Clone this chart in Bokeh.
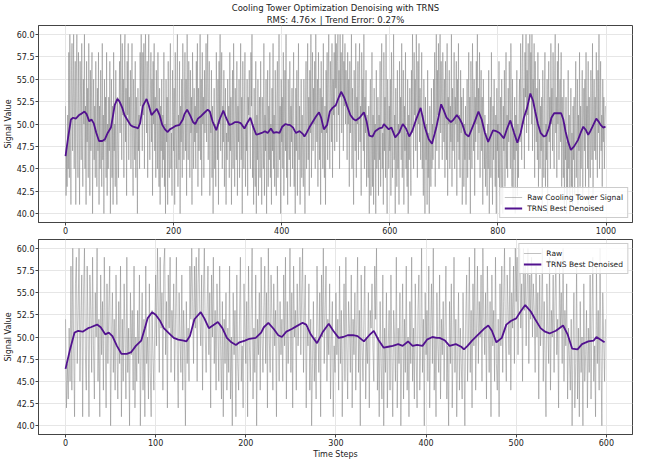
from bokeh.plotting import figure
from bokeh.models import Title, FixedTicker, PrintfTickFormatter, Legend, LegendItem, Range1d
from bokeh.layouts import column
from bokeh.embed import file_html
from bokeh.resources import INLINE

title_main = "Cooling Tower Optimization Denoising with TRNS"
title_sub = "RMS: 4.76\u00d7 | Trend Error: 0.27%"

raw_signal = [
    52, 42, 47, 43, 51, 45, 58, 44, 60, 49, 41, 56, 59, 47, 53, 60, 45, 52, 57, 41,
    55, 60, 48, 44, 58, 51, 41, 57, 53, 46, 59, 49, 43, 55, 50, 60, 45, 52, 41, 57,
    48, 54, 44, 59, 51, 42, 56, 47, 53, 58, 40, 50, 55, 46, 52, 44, 57, 49, 43, 54,
    47, 58, 41, 52, 45, 56, 50, 43, 59, 46, 51, 40, 55, 48, 53, 44, 58, 42, 50, 45,
    53, 47, 57, 40, 49, 55, 44, 52, 41, 58, 47, 50, 43, 56, 46, 41, 53, 48, 44, 51,
    57, 49, 60, 53, 46, 59, 51, 55, 44, 58, 60, 48, 54, 42, 57, 51, 59, 46, 53, 50,
    56, 45, 52, 59, 48, 42, 55, 50, 46, 57, 44, 53, 49, 40, 54, 47, 51, 45, 58, 52,
    60, 54, 47, 58, 51, 59, 45, 56, 60, 52, 49, 57, 44, 55, 60, 50, 46, 53, 58, 48,
    55, 42, 57, 50, 59, 47, 53, 44, 56, 51, 45, 58, 49, 43, 54, 41, 52, 47, 55, 44,
    51, 46, 58, 43, 50, 40, 55, 48, 53, 41, 57, 47, 44, 52, 59, 45, 49, 42, 56, 50,
    47, 54, 41, 58, 49, 45, 53, 60, 43, 51, 46, 57, 40, 52, 48, 55, 44, 59, 50, 46,
    53, 58, 47, 55, 42, 60, 50, 46, 57, 52, 44, 56, 49, 53, 41, 58, 51, 45, 54, 48,
    52, 45, 57, 49, 59, 43, 54, 47, 51, 60, 46, 55, 42, 58, 50, 53, 44, 56, 49, 52,
    59, 48, 55, 60, 46, 53, 57, 42, 51, 49, 56, 44, 52, 40, 47, 54, 45, 50, 43, 58,
    51, 46, 55, 41, 57, 50, 60, 47, 53, 58, 45, 52, 48, 56, 43, 50, 54, 41, 49, 46,
    55, 48, 52, 44, 58, 47, 53, 41, 50, 56, 45, 59, 49, 43, 54, 51, 46, 57, 42, 52,
    48, 55, 44, 51, 59, 46, 53, 40, 57, 49, 45, 52, 58, 43, 50, 47, 55, 42, 53, 51,
    56, 49, 45, 58, 52, 60, 44, 50, 41, 54, 47, 43, 57, 40, 51, 46, 55, 42, 49, 53,
    44, 57, 48, 41, 53, 50, 45, 59, 42, 51, 47, 55, 40, 49, 56, 43, 52, 46, 58, 44,
    50, 41, 54, 47, 59, 45, 51, 43, 56, 48, 42, 53, 57, 44, 49, 60, 46, 52, 40, 55,
    48, 53, 45, 58, 42, 51, 56, 47, 60, 44, 50, 41, 55, 49, 46, 57, 43, 52, 48, 54,
    45, 51, 58, 43, 49, 40, 54, 47, 56, 42, 50, 59, 46, 52, 41, 48, 55, 44, 51, 47,
    43, 55, 48, 40, 52, 57, 45, 50, 59, 46, 53, 42, 56, 49, 60, 44, 51, 58, 47, 54,
    50, 57, 45, 60, 52, 48, 55, 43, 58, 51, 46, 54, 41, 57, 49, 53, 45, 59, 47, 44,
    52, 41, 56, 49, 58, 46, 54, 60, 50, 45, 57, 53, 48, 59, 44, 55, 51, 58, 47, 60,
    54, 59, 48, 57, 60, 51, 56, 45, 60, 53, 58, 49, 55, 60, 47, 57, 52, 59, 50, 56,
    53, 46, 58, 50, 55, 43, 57, 49, 52, 60, 45, 54, 48, 41, 56, 51, 47, 59, 44, 53,
    50, 57, 46, 54, 59, 48, 52, 42, 58, 51, 55, 47, 60, 45, 53, 49, 56, 43, 51, 48,
    44, 52, 40, 49, 55, 42, 47, 58, 43, 51, 41, 54, 46, 50, 40, 56, 45, 48, 53, 42,
    51, 46, 57, 43, 52, 59, 45, 49, 41, 58, 47, 53, 44, 60, 48, 40, 55, 50, 45, 52,
    47, 55, 42, 58, 49, 44, 53, 60, 46, 51, 40, 54, 48, 43, 56, 45, 50, 41, 57, 49,
    53, 46, 59, 44, 50, 56, 41, 52, 47, 58, 45, 49, 43, 55, 40, 51, 46, 54, 48, 42,
    56, 49, 60, 52, 45, 58, 51, 55, 47, 60, 53, 44, 57, 50, 59, 48, 54, 46, 52, 58,
    45, 51, 42, 55, 48, 40, 53, 46, 50, 41, 56, 44, 49, 40, 52, 47, 43, 54, 45, 50,
    46, 55, 49, 58, 43, 52, 60, 47, 56, 51, 59, 45, 54, 60, 49, 57, 52, 46, 58, 53,
    48, 55, 44, 57, 51, 46, 59, 42, 53, 50, 56, 45, 52, 48, 60, 43, 54, 47, 51, 58,
    45, 53, 50, 57, 42, 55, 48, 59, 46, 51, 44, 56, 49, 53, 41, 47, 54, 43, 50, 46,
    52, 41, 48, 55, 44, 50, 58, 46, 53, 40, 57, 49, 45, 59, 51, 47, 55, 42, 53, 48,
    57, 50, 60, 46, 54, 49, 58, 44, 52, 56, 47, 53, 41, 55, 50, 45, 51, 43, 49, 46,
    42, 50, 45, 56, 40, 48, 53, 44, 58, 47, 41, 52, 46, 55, 49, 43, 51, 40, 54, 47,
    50, 44, 57, 42, 48, 53, 41, 55, 46, 40, 52, 47, 56, 43, 49, 58, 45, 51, 44, 54,
    48, 57, 52, 45, 59, 50, 43, 55, 41, 49, 46, 53, 40, 51, 47, 56, 42, 50, 44, 52,
    55, 48, 59, 52, 46, 57, 60, 50, 54, 45, 58, 53, 60, 49, 56, 51, 59, 47, 55, 60,
    53, 58, 50, 60, 47, 55, 52, 59, 44, 57, 51, 48, 54, 46, 58, 43, 50, 55, 45, 52,
    47, 53, 41, 56, 49, 44, 52, 58, 43, 50, 46, 55, 40, 51, 57, 48, 53, 45, 59, 50,
    54, 47, 58, 51, 45, 56, 60, 49, 53, 44, 57, 50, 59, 46, 52, 55, 48, 58, 43, 53,
    49, 44, 55, 41, 50, 46, 53, 40, 48, 42, 56, 45, 51, 40, 47, 54, 43, 49, 41, 52,
    46, 53, 42, 50, 57, 44, 48, 55, 41, 51, 47, 58, 43, 52, 45, 49, 56, 42, 50, 54,
    47, 55, 43, 58, 49, 52, 45, 57, 41, 53, 48, 44, 56, 50, 46, 59, 42, 51, 55, 47,
    53, 46, 58, 50, 44, 56, 49, 60, 45, 52, 57, 47, 51, 43, 55, 48, 53, 45, 50, 52,
]
time_steps = list(range(len(raw_signal)))

denoised_t = [
    0, 5, 10, 14, 19, 25, 28, 35, 39, 44, 48, 52, 57, 62, 68, 73, 78, 84, 88, 91,
    96, 100, 105, 109, 114, 120, 125, 131, 134, 138, 143, 150, 154, 159, 165, 169, 174, 179, 184, 189,
    193, 199, 204, 211, 217, 220, 225, 231, 236, 240, 245, 251, 256, 263, 267, 272, 279, 285, 292, 297,
    303, 308, 313, 319, 324, 331, 337, 342, 347, 353, 358, 363, 369, 374, 380, 385, 390, 396, 401, 407,
    412, 415, 421, 426, 433, 439, 442, 446, 451, 458, 464, 469, 473, 478, 484, 489, 494, 500, 505, 510,
    516, 521, 527, 532, 537, 544, 552, 557, 562, 568, 573, 580, 586, 589, 595, 598,
    603, 610, 617, 624, 630, 636, 642, 648, 657, 665, 672, 678, 686, 695, 700, 705, 713, 718, 724, 730,
    734, 740, 746, 752, 758, 764, 770, 776, 782, 791, 797, 803, 811, 817, 823, 830, 836, 842, 848, 854,
    860, 865, 869, 874, 879, 885, 889, 894, 899, 904, 910, 917, 921, 925, 930, 935, 941, 948, 953, 958,
    963, 967, 971, 975, 982, 986, 990, 995, 999,
]
denoised_v = [
    46.4, 48.6, 50.5, 50.7, 50.6, 51.0, 51.1, 51.4, 51.1, 50.3, 50.5, 50.1, 49.0, 48.1, 48.1, 48.3, 49.0, 49.6, 51.0, 52.1,
    52.8, 52.5, 51.8, 51.0, 50.5, 49.9, 49.7, 49.6, 49.5, 50.1, 52.0, 52.8, 52.1, 51.0, 51.4, 51.7, 51.0, 49.9, 49.4, 49.1,
    49.4, 49.6, 49.8, 49.9, 50.5, 51.1, 51.6, 50.9, 50.2, 50.0, 50.6, 50.9, 51.2, 51.6, 51.4, 50.3, 49.3, 50.5, 51.5, 50.7,
    49.9, 50.0, 50.2, 50.2, 50.1, 49.5, 50.2, 50.7, 49.7, 48.8, 48.9, 49.0, 49.2, 49.0, 49.5, 49.0, 49.1, 49.0, 49.7, 50.0,
    49.9, 49.9, 49.6, 49.0, 49.2, 48.9, 48.6, 49.0, 49.6, 50.3, 50.9, 51.3, 50.7, 49.4, 49.9, 51.4, 51.8, 52.1, 52.9, 53.6,
    52.9, 52.0, 51.0, 50.6, 50.4, 50.7, 51.3, 50.3, 48.7, 48.6, 49.2, 49.5, 49.6, 50.0, 49.6, 49.4,
    49.6, 48.5, 49.0, 50.0, 49.5, 48.6, 49.3, 50.4, 51.8, 49.6, 48.3, 47.8, 49.6, 52.2, 51.5, 50.7, 50.2, 50.5, 51.0, 50.5,
    50.0, 48.9, 48.6, 49.5, 50.4, 51.4, 50.5, 49.0, 48.0, 49.3, 49.2, 49.0, 48.4, 49.5, 50.4, 49.0, 47.9, 49.0, 50.7, 51.8,
    53.4, 52.6, 51.4, 50.0, 49.0, 48.6, 48.7, 49.5, 50.7, 51.2, 51.2, 51.2, 50.5, 49.2, 48.0, 47.1, 47.5, 48.2, 49.0, 49.7,
    49.3, 48.8, 49.2, 49.7, 50.6, 50.3, 49.9, 49.6, 49.7,
]

y_ticks = [40.0, 42.5, 45.0, 47.5, 50.0, 52.5, 55.0, 57.5, 60.0]
x_ticks_top = [0, 200, 400, 600, 800, 1000]
x_ticks_bottom = [0, 100, 200, 300, 400, 500, 600]
zoom_len = 600

FONT = "DejaVu Sans"
RAW_COLOR = "#808080"
DEN_COLOR = "#52128f"


def style(p, xticks, xlabel=None):
    for ax in (p.xaxis[0], p.yaxis[0]):
        ax.major_label_text_font = FONT
        ax.major_label_text_font_size = "8px"
        ax.major_label_text_color = "#222222"
        ax.axis_label_text_font = FONT
        ax.axis_label_text_font_size = "8px"
        ax.axis_label_text_font_style = "normal"
        ax.axis_label_text_color = "#222222"
        ax.major_tick_out = 3
        ax.major_tick_in = 0
        ax.minor_tick_out = 0
        ax.minor_tick_in = 0
        ax.major_tick_line_color = "#444444"
        ax.axis_line_color = "#444444"
        ax.major_label_standoff = 1
        ax.axis_label_standoff = 1
    p.xaxis[0].ticker = FixedTicker(ticks=xticks)
    p.yaxis[0].ticker = FixedTicker(ticks=y_ticks)
    p.yaxis[0].formatter = PrintfTickFormatter(format="%.1f")
    p.yaxis[0].axis_label = "Signal Value"
    if xlabel:
        p.xaxis[0].axis_label = xlabel
    p.xgrid.grid_line_color = "#e6e6e6"
    p.ygrid.grid_line_color = "#e6e6e6"
    p.xgrid.ticker = FixedTicker(ticks=xticks)
    p.ygrid.ticker = FixedTicker(ticks=y_ticks)
    p.outline_line_color = "#444444"
    p.outline_line_width = 1
    p.min_border_left = 0
    p.min_border_right = 2


def legend(p, items, loc):
    lg = Legend(items=items, location=loc)
    lg.label_text_font = FONT
    lg.label_text_font_size = "7.5px"
    lg.label_text_color = "#222222"
    lg.glyph_width = 18
    lg.glyph_height = 10
    lg.label_height = 10
    lg.spacing = 1
    lg.padding = 4
    lg.margin = 4
    lg.border_line_color = "#cccccc"
    lg.border_line_alpha = 1
    lg.background_fill_alpha = 0.85
    p.add_layout(lg)


top = figure(width=634, height=236, x_range=Range1d(-50, 1049), y_range=Range1d(39, 61),
             output_backend="svg", toolbar_location=None, tools="")
top.min_border_top = 0
top.min_border_bottom = 0
style(top, x_ticks_top)
r1 = top.line(time_steps, raw_signal, line_color=RAW_COLOR, line_alpha=0.7, line_width=0.7)
r2 = top.line(denoised_t, denoised_v, line_color=DEN_COLOR, line_width=1.8)
legend(top, [LegendItem(label="Raw Cooling Tower Signal", renderers=[r1]),
             LegendItem(label="TRNS Best Denoised", renderers=[r2])], "bottom_right")
top.add_layout(Title(text=title_sub, align="center", text_font=FONT, text_font_size="8.5px",
                     text_font_style="normal", text_color="#222222", standoff=1), "above")
top.add_layout(Title(text=title_main, align="center", text_font=FONT, text_font_size="8.5px",
                     text_font_style="normal", text_color="#222222", standoff=0), "above")

bz_t = [t for t in denoised_t if t < zoom_len]
bz_v = denoised_v[:len(bz_t)]
bot = figure(width=634, height=225, x_range=Range1d(-30, 629), y_range=Range1d(39, 61),
             output_backend="svg", toolbar_location=None, tools="")
bot.min_border_top = 3
bot.min_border_bottom = 0
style(bot, x_ticks_bottom, "Time Steps")
r3 = bot.line(time_steps[:zoom_len], raw_signal[:zoom_len], line_color=RAW_COLOR, line_alpha=0.7, line_width=0.7)
r4 = bot.line(bz_t, bz_v, line_color=DEN_COLOR, line_width=1.8)
legend(bot, [LegendItem(label="Raw", renderers=[r3]),
             LegendItem(label="TRNS Best Denoised", renderers=[r4])], "top_right")

layout = column(top, bot, spacing=0)
open("out.html", "w").write(file_html(layout, INLINE))
